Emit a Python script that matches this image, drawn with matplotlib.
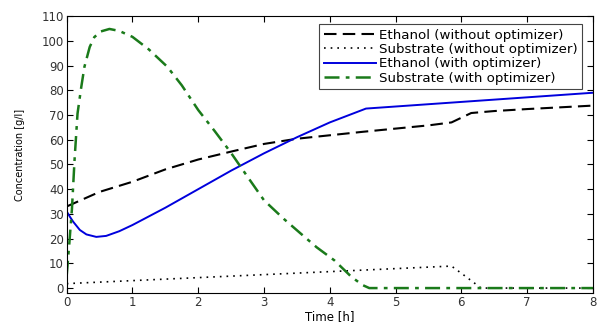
import numpy as np
import matplotlib
matplotlib.use("Agg")
import matplotlib.pyplot as plt

plt.rcParams['font.family'] = ['DejaVu Sans']

# Ethanol (without optimizer)
t_eth_wo = [0.0, 0.5, 1.0, 1.5, 2.0, 2.5, 3.0, 3.5, 4.0, 4.5, 5.0, 5.5, 5.85, 6.15, 6.5, 7.0, 7.5, 8.0]
eth_wo = [33.0, 38.9, 43.0, 48.0, 52.0, 55.2, 58.3, 60.4, 61.8, 63.2, 64.5, 65.8, 67.0, 70.8, 71.6, 72.4, 73.1, 73.8]

# Substrate (without optimizer)
t_sub_wo = [0.0, 5.85, 6.05, 6.3, 8.0]
sub_wo = [1.8, 8.9, 5.0, 0.0, 0.0]

# Ethanol (with optimizer)
t_eth_w = [0.0, 0.05, 0.1, 0.2, 0.3, 0.45, 0.6, 0.8, 1.0, 1.5, 2.0, 2.5, 3.0, 3.5, 4.0, 4.55, 8.0]
eth_w = [31.0, 28.8, 26.8, 23.5, 21.7, 20.7, 21.1, 23.0, 25.5, 32.5, 40.0, 47.5, 54.5, 61.0, 67.0, 72.6, 79.0]

# Substrate (with optimizer)
t_sub_w = [0.0, 0.04, 0.08, 0.12, 0.165, 0.22, 0.27, 0.35, 0.42, 0.52, 0.65, 0.8, 1.0, 1.25, 1.53, 1.75, 2.0, 2.25, 2.49, 2.75, 3.0, 3.3, 3.56, 3.8, 4.07, 4.33, 4.5, 4.6, 8.0]
sub_w = [5.0, 18.0, 32.0, 52.0, 70.6, 81.0, 89.5, 97.5, 101.5, 103.8, 104.8, 104.0, 101.6, 96.5, 89.5, 82.0, 72.0, 63.5, 55.0, 45.0, 35.5, 28.0, 22.0, 16.5, 11.2, 4.5, 1.2, 0.0, 0.0]

labels = ["Ethanol (without optimizer)", "Substrate (without optimizer)",
          "Ethanol (with optimizer)", "Substrate (with optimizer)"]

fig = plt.figure(figsize=(5.98, 3.22), dpi=100)
ax = fig.add_axes([0.1115, 0.09, 0.880, 0.860])

ax.plot(t_eth_wo, eth_wo, color='black', linestyle=(0, (6, 3)), linewidth=1.5, label=labels[0])
ax.plot(t_sub_wo, sub_wo, color='black', linestyle=(0, (1, 3)), linewidth=1.2, label=labels[1])
ax.plot(t_eth_w, eth_w, color='#0000dd', linestyle='-', linewidth=1.4, label=labels[2])
ax.plot(t_sub_w, sub_w, color='#1a7a1a', linestyle=(0, (6, 2.5, 1.5, 2.5)), linewidth=1.8, label=labels[3])

ax.set_xlim(0, 8)
ax.set_ylim(-2, 110)
ax.set_xticks(range(0, 9))
ax.set_yticks(range(0, 111, 10))
ax.tick_params(direction='in', top=True, right=True, labelsize=8.5, length=4, pad=2)
for lab in ax.get_xticklabels() + ax.get_yticklabels():
    lab.set_color('#333333')
ax.set_xlabel("Time [h]", fontsize=8.5, labelpad=1)
ax.set_ylabel("Concentration [g/l]", fontsize=7, labelpad=12)

leg = ax.legend(loc='upper right', fontsize=9.6, handlelength=3.9, labelspacing=0.1,
                handletextpad=0.2, borderpad=0.35, fancybox=False, framealpha=1,
                edgecolor='#444444', bbox_to_anchor=(0.992, 0.996))
leg.get_frame().set_linewidth(0.8)

fig.savefig("out.png", dpi=100)
